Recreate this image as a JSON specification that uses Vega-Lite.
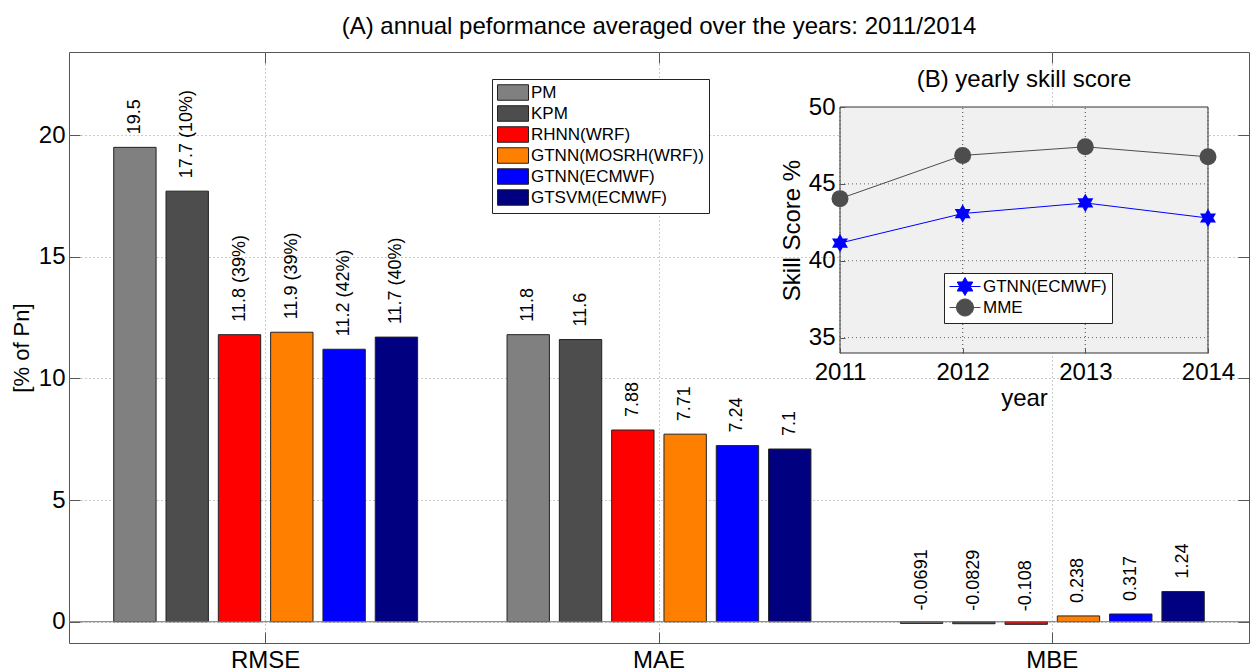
{
  "$schema": "https://vega.github.io/schema/vega-lite/v6.json",
  "width": 1180,
  "height": 591,
  "autosize": {"type": "none"},
  "padding": {"left": 69, "top": 52, "right": 1, "bottom": 28},
  "config": {
    "font": "Liberation Sans",
    "view": {"stroke": "#555", "strokeWidth": 1},
    "axis": {
      "labelColor": "#000",
      "titleColor": "#000",
      "titleFontWeight": "normal",
      "labelFontSize": 24,
      "titleFontSize": 24,
      "domain": false,
      "tickColor": "#555",
      "gridColor": "#999",
      "gridDash": [1, 3],
      "gridOpacity": 1,
      "labelFlush": false,
      "labelOverlap": false
    }
  },
  "title": {
    "text": "(A) annual peformance averaged over the years: 2011/2014",
    "fontSize": 24,
    "fontWeight": "normal",
    "color": "#000",
    "anchor": "middle",
    "baseline": "alphabetic",
    "offset": -6
  },
  "datasets": {
    "bars": [
      {"metric": "RMSE", "method": "PM", "value": 19.5, "label": "19.5"},
      {"metric": "RMSE", "method": "KPM", "value": 17.7, "label": "17.7 (10%)"},
      {"metric": "RMSE", "method": "RHNN(WRF)", "value": 11.8, "label": "11.8 (39%)"},
      {"metric": "RMSE", "method": "GTNN(MOSRH(WRF))", "value": 11.9, "label": "11.9 (39%)"},
      {"metric": "RMSE", "method": "GTNN(ECMWF)", "value": 11.2, "label": "11.2 (42%)"},
      {"metric": "RMSE", "method": "GTSVM(ECMWF)", "value": 11.7, "label": "11.7 (40%)"},
      {"metric": "MAE", "method": "PM", "value": 11.8, "label": "11.8"},
      {"metric": "MAE", "method": "KPM", "value": 11.6, "label": "11.6"},
      {"metric": "MAE", "method": "RHNN(WRF)", "value": 7.88, "label": "7.88"},
      {"metric": "MAE", "method": "GTNN(MOSRH(WRF))", "value": 7.71, "label": "7.71"},
      {"metric": "MAE", "method": "GTNN(ECMWF)", "value": 7.24, "label": "7.24"},
      {"metric": "MAE", "method": "GTSVM(ECMWF)", "value": 7.1, "label": "7.1"},
      {"metric": "MBE", "method": "PM", "value": -0.0691, "label": "-0.0691"},
      {"metric": "MBE", "method": "KPM", "value": -0.0829, "label": "-0.0829"},
      {"metric": "MBE", "method": "RHNN(WRF)", "value": -0.108, "label": "-0.108"},
      {"metric": "MBE", "method": "GTNN(MOSRH(WRF))", "value": 0.238, "label": "0.238"},
      {"metric": "MBE", "method": "GTNN(ECMWF)", "value": 0.317, "label": "0.317"},
      {"metric": "MBE", "method": "GTSVM(ECMWF)", "value": 1.24, "label": "1.24"}
    ],
    "skill": [
      {"year": 2011, "series": "GTNN(ECMWF)", "score": 41.15},
      {"year": 2012, "series": "GTNN(ECMWF)", "score": 43.07},
      {"year": 2013, "series": "GTNN(ECMWF)", "score": 43.76},
      {"year": 2014, "series": "GTNN(ECMWF)", "score": 42.78},
      {"year": 2011, "series": "MME", "score": 44.04},
      {"year": 2012, "series": "MME", "score": 46.85},
      {"year": 2013, "series": "MME", "score": 47.41},
      {"year": 2014, "series": "MME", "score": 46.76}
    ],
    "one": [{}]
  },
  "layer": [
    {
      "data": {"name": "bars"},
      "mark": {"type": "bar", "stroke": "#222", "strokeWidth": 1},
      "encoding": {
        "x": {
          "field": "metric", "type": "nominal",
          "scale": {"type": "band", "domain": ["RMSE", "MAE", "MBE"], "paddingInner": 0, "paddingOuter": 0},
          "axis": {"orient": "bottom", "title": null, "labelAngle": 0, "tickSize": -11, "labelPadding": 16, "grid": true, "bandPosition": 0.5}
        },
        "xOffset": {
          "field": "method", "type": "nominal",
          "scale": {"type": "band", "domain": ["PM", "KPM", "RHNN(WRF)", "GTNN(MOSRH(WRF))", "GTNN(ECMWF)", "GTSVM(ECMWF)"], "paddingInner": 0.19, "paddingOuter": 0.855}
        },
        "y": {
          "field": "value", "type": "quantitative",
          "scale": {"domain": [-0.875, 23.42], "nice": false, "zero": false},
          "axis": {"orient": "left", "values": [0, 5, 10, 15, 20], "title": "[% of Pn]", "titleFontSize": 22, "titlePadding": 5, "tickSize": -11, "labelPadding": 15, "grid": true}
        },
        "color": {
          "field": "method", "type": "nominal",
          "scale": {
            "domain": ["PM", "KPM", "RHNN(WRF)", "GTNN(MOSRH(WRF))", "GTNN(ECMWF)", "GTSVM(ECMWF)"],
            "range": ["#808080", "#4d4d4d", "#ff0000", "#ff8000", "#0000ff", "#000080"]
          },
          "legend": {
            "orient": "none", "legendX": 423, "legendY": 27, "title": null, "direction": "vertical",
            "symbolType": "M-1,-0.97H2.875V0.97H-1Z", "symbolSize": 256,
            "symbolStrokeColor": "#222", "symbolStrokeWidth": 1, "symbolOpacity": 1,
            "labelFontSize": 17, "labelColor": "#000", "labelOffset": 17, "labelLimit": 400,
            "rowPadding": 0, "padding": 5, "strokeColor": "#222", "fillColor": "#fff"
          }
        }
      }
    },
    {
      "data": {"name": "bars"},
      "mark": {"type": "text", "angle": 270, "align": "left", "baseline": "middle", "dx": 13, "fontSize": 18, "color": "#000"},
      "encoding": {
        "x": {
          "field": "metric", "type": "nominal",
          "scale": {"type": "band", "domain": ["RMSE", "MAE", "MBE"], "paddingInner": 0, "paddingOuter": 0},
          "axis": {"orient": "top", "title": null, "labels": false, "tickSize": -11, "grid": false, "bandPosition": 0.5}
        },
        "xOffset": {
          "field": "method", "type": "nominal",
          "scale": {"type": "band", "domain": ["PM", "KPM", "RHNN(WRF)", "GTNN(MOSRH(WRF))", "GTNN(ECMWF)", "GTSVM(ECMWF)"], "paddingInner": 0.19, "paddingOuter": 0.855}
        },
        "y": {
          "field": "value", "type": "quantitative",
          "scale": {"domain": [-0.875, 23.42], "nice": false, "zero": false},
          "axis": {"orient": "right", "values": [0, 5, 10, 15, 20], "title": null, "labels": false, "tickSize": -11, "grid": false}
        },
        "text": {"field": "label", "type": "nominal"}
      }
    },
    {
      "data": {"name": "one"},
      "mark": {"type": "rule", "color": "#777", "strokeWidth": 1},
      "encoding": {"y": {"datum": 0, "type": "quantitative", "scale": {"domain": [-0.875, 23.42], "nice": false, "zero": false}, "axis": null}}
    },
    {
      "data": {"name": "one"},
      "mark": {"type": "rect", "fill": "#f0f0f0", "stroke": "#333", "strokeWidth": 1},
      "encoding": {
        "x": {"datum": 2011, "type": "quantitative", "scale": {"domain": [2011, 2014], "range": [771, 1139], "nice": false, "zero": false}, "axis": null},
        "x2": {"datum": 2014},
        "y": {"datum": 34, "type": "quantitative", "scale": {"domain": [34, 50], "range": [301, 55], "nice": false, "zero": false}, "axis": null},
        "y2": {"datum": 50}
      }
    },
    {
      "data": {"name": "skill"},
      "mark": {"type": "rule", "color": "#666", "strokeWidth": 1, "strokeDash": [1, 3]},
      "encoding": {
        "x": {"field": "year", "type": "quantitative", "scale": {"domain": [2011, 2014], "range": [771, 1139], "nice": false, "zero": false}, "axis": null},
        "y": {"datum": 34, "type": "quantitative", "scale": {"domain": [34, 50], "range": [301, 55], "nice": false, "zero": false}, "axis": null},
        "y2": {"datum": 50}
      }
    },
    {
      "data": {"name": "one"},
      "mark": {"type": "rule", "color": "#666", "strokeWidth": 1, "strokeDash": [1, 3]},
      "encoding": {
        "x": {"datum": 2011, "type": "quantitative", "scale": {"domain": [2011, 2014], "range": [771, 1139], "nice": false, "zero": false}, "axis": null},
        "x2": {"datum": 2014},
        "y": {"datum": 35, "type": "quantitative", "scale": {"domain": [34, 50], "range": [301, 55], "nice": false, "zero": false}, "axis": null}
      }
    },
    {
      "data": {"name": "one"},
      "mark": {"type": "rule", "color": "#666", "strokeWidth": 1, "strokeDash": [1, 3]},
      "encoding": {
        "x": {"datum": 2011, "type": "quantitative", "scale": {"domain": [2011, 2014], "range": [771, 1139], "nice": false, "zero": false}, "axis": null},
        "x2": {"datum": 2014},
        "y": {"datum": 40, "type": "quantitative", "scale": {"domain": [34, 50], "range": [301, 55], "nice": false, "zero": false}, "axis": null}
      }
    },
    {
      "data": {"name": "one"},
      "mark": {"type": "rule", "color": "#666", "strokeWidth": 1, "strokeDash": [1, 3]},
      "encoding": {
        "x": {"datum": 2011, "type": "quantitative", "scale": {"domain": [2011, 2014], "range": [771, 1139], "nice": false, "zero": false}, "axis": null},
        "x2": {"datum": 2014},
        "y": {"datum": 45, "type": "quantitative", "scale": {"domain": [34, 50], "range": [301, 55], "nice": false, "zero": false}, "axis": null}
      }
    },
    {
      "data": {"name": "skill"},
      "mark": {"type": "line", "strokeWidth": 1},
      "encoding": {
        "x": {
          "field": "year", "type": "quantitative",
          "scale": {"domain": [2011, 2014], "range": [771, 1139], "nice": false, "zero": false},
          "axis": {"orient": "bottom", "offset": -290, "values": [2011, 2012, 2013, 2014], "format": "d", "title": "year", "titlePadding": 2, "tickSize": -5, "labelPadding": 12, "grid": false, "zindex": 1}
        },
        "y": {
          "field": "score", "type": "quantitative",
          "scale": {"domain": [34, 50], "range": [301, 55], "nice": false, "zero": false},
          "axis": {"orient": "left", "offset": -771, "values": [35, 40, 45, 50], "title": "Skill Score %", "titlePadding": 4, "tickSize": -5, "labelPadding": 10, "grid": false, "zindex": 1}
        },
        "color": {"field": "series", "type": "nominal", "scale": {"domain": ["GTNN(ECMWF)", "MME"], "range": ["#0000ff", "#4d4d4d"]}, "legend": null}
      }
    },
    {
      "data": {"name": "skill"},
      "mark": {"type": "point", "filled": true, "opacity": 1},
      "encoding": {
        "x": {"field": "year", "type": "quantitative", "scale": {"domain": [2011, 2014], "range": [771, 1139], "nice": false, "zero": false}, "axis": null},
        "y": {"field": "score", "type": "quantitative", "scale": {"domain": [34, 50], "range": [301, 55], "nice": false, "zero": false}, "axis": null},
        "shape": {
          "field": "series", "type": "nominal",
          "scale": {"domain": ["GTNN(ECMWF)", "MME"], "range": ["M0,-1L0.289,-0.5L0.866,-0.5L0.577,0L0.866,0.5L0.289,0.5L0,1L-0.289,0.5L-0.866,0.5L-0.577,0L-0.866,-0.5L-0.289,-0.5Z", "circle"]},
          "legend": null
        },
        "size": {"field": "series", "type": "nominal", "scale": {"domain": ["GTNN(ECMWF)", "MME"], "range": [340, 289]}, "legend": null},
        "color": {
          "field": "series", "type": "nominal",
          "scale": {"domain": ["GTNN(ECMWF)", "MME"], "range": ["#0000ff", "#4d4d4d"]},
          "legend": {
            "orient": "none", "legendX": 875, "legendY": 221, "title": null, "direction": "vertical",
            "symbolSize": 256, "symbolStrokeWidth": 1, "symbolOpacity": 1,
            "labelFontSize": 17, "labelColor": "#000", "labelOffset": 17, "labelLimit": 400,
            "rowPadding": -1, "padding": 5, "strokeColor": "#222", "fillColor": "#fff",
            "encode": {
              "symbols": {
                "update": {
                  "shape": {"signal": "datum.value === 'MME' ? 'M-1,0H2.875M-0.125,0A1.0625,1.0625,0,1,0,2,0A1.0625,1.0625,0,1,0,-0.125,0Z' : 'M-1,0H2.875M0.9375,-1.125L1.263,-0.5625L1.912,-0.5625L1.587,0L1.912,0.5625L1.263,0.5625L0.9375,1.125L0.612,0.5625L-0.037,0.5625L0.288,0L-0.037,-0.5625L0.612,-0.5625Z'"},
                  "stroke": {"signal": "datum.value === 'MME' ? '#4d4d4d' : '#0000ff'"},
                  "fill": {"signal": "datum.value === 'MME' ? '#4d4d4d' : '#0000ff'"},
                  "strokeWidth": {"value": 1}
                }
              }
            }
          }
        }
      }
    },
    {
      "data": {"name": "one"},
      "mark": {"type": "text", "text": "(B) yearly skill score", "fontSize": 24, "baseline": "alphabetic", "align": "center", "color": "#000"},
      "encoding": {
        "x": {"datum": 2012.5, "type": "quantitative", "scale": {"domain": [2011, 2014], "range": [771, 1139], "nice": false, "zero": false}, "axis": null},
        "y": {"datum": 51.3, "type": "quantitative", "scale": {"domain": [34, 50], "range": [301, 55], "nice": false, "zero": false}, "axis": null}
      }
    }
  ],
  "resolve": {
    "scale": {"x": "independent", "y": "independent", "color": "independent"},
    "axis": {"x": "independent", "y": "independent"}
  }
}
